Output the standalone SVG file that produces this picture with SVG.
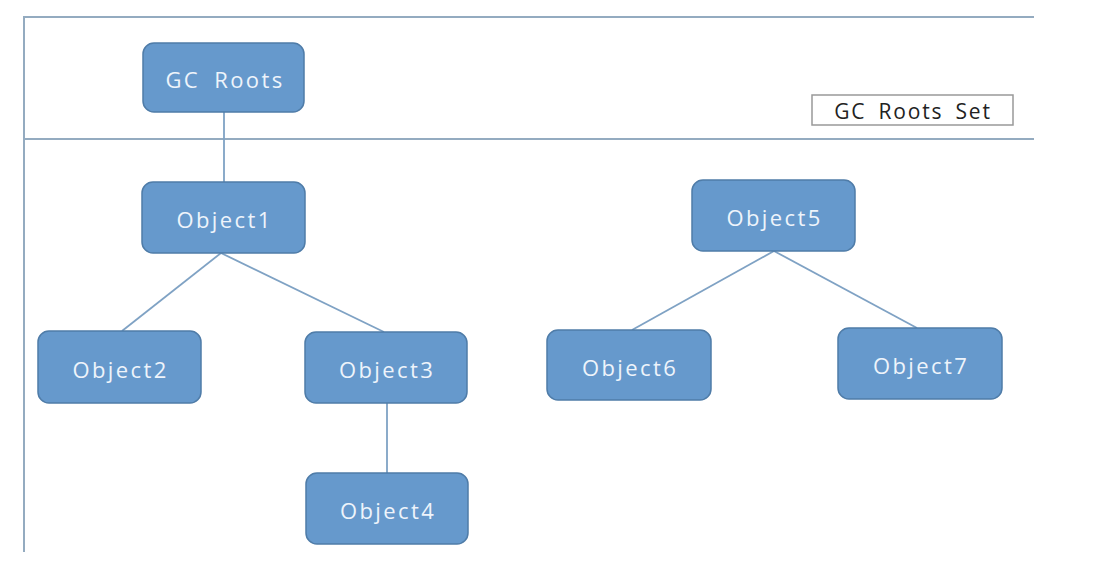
<svg xmlns="http://www.w3.org/2000/svg" width="1102" height="570" viewBox="0 0 1102 570">
<style>
.frame{stroke:#94abc0;stroke-width:2;fill:none}
.node rect{fill:#6699cc;stroke:#4f7ca8;stroke-width:1.5}
.node text{font-family:"Open Sans","Liberation Sans",sans-serif;font-size:22px;fill:#eef4fb;text-anchor:middle;letter-spacing:2.4px;word-spacing:6px}
.edge{stroke:#7fa2c4;stroke-width:1.8;fill:none}
.label text{font-family:"Open Sans","Liberation Sans",sans-serif;font-size:21px;fill:#222;text-anchor:middle;letter-spacing:1.8px;word-spacing:5px}
</style>
<rect width="1102" height="570" fill="#fff"/>
<g id="frame">
<path class="frame" d="M24,552 V17 H1034"/>
<path class="frame" d="M24,139 H1034"/>
</g>
<g id="gc-roots-set" class="label">
<rect x="812" y="95" width="201" height="30" fill="#fff" stroke="#999" stroke-width="1.5"/>
<text x="913" y="119">GC Roots Set</text>
</g>
<g id="connectors">
<line class="edge" x1="224" y1="112" x2="224" y2="182"/>
<line class="edge" x1="221" y1="253" x2="122" y2="331"/>
<line class="edge" x1="221" y1="253" x2="384" y2="332"/>
<line class="edge" x1="387" y1="403" x2="387" y2="473"/>
<line class="edge" x1="774" y1="251" x2="632" y2="330"/>
<line class="edge" x1="774" y1="251" x2="917" y2="328"/>
</g>
<g id="gcroots" class="node"><rect x="143" y="43" width="161" height="69" rx="11"/><text x="225" y="88">GC Roots</text></g>
<g id="object1" class="node"><rect x="142" y="182" width="163" height="71" rx="11"/><text x="224.5" y="228">Object1</text></g>
<g id="object2" class="node"><rect x="38" y="331" width="163" height="72" rx="11"/><text x="120.5" y="378">Object2</text></g>
<g id="object3" class="node"><rect x="305" y="332" width="162" height="71" rx="11"/><text x="387" y="378">Object3</text></g>
<g id="object4" class="node"><rect x="306" y="473" width="162" height="71" rx="11"/><text x="388" y="519">Object4</text></g>
<g id="object5" class="node"><rect x="692" y="180" width="163" height="71" rx="11"/><text x="774.5" y="226">Object5</text></g>
<g id="object6" class="node"><rect x="547" y="330" width="164" height="70" rx="11"/><text x="630" y="376">Object6</text></g>
<g id="object7" class="node"><rect x="838" y="328" width="164" height="71" rx="11"/><text x="921" y="374">Object7</text></g>
</svg>
